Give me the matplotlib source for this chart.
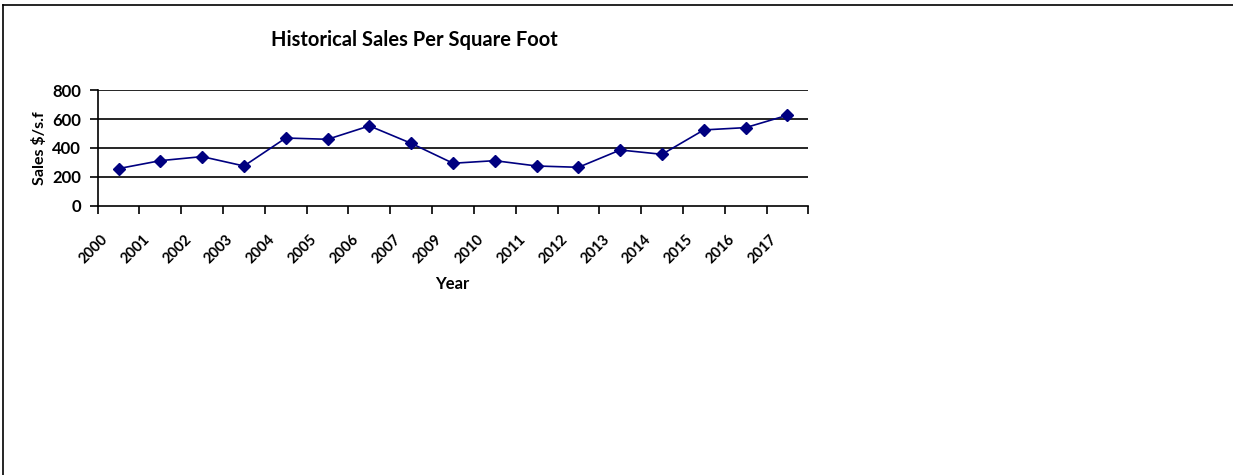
import matplotlib.pyplot as plt
from matplotlib.lines import Line2D
from matplotlib.transforms import ScaledTranslation

plt.rcParams['font.family'] = ['Lato', 'DejaVu Sans']

years = ['2000', '2001', '2002', '2003', '2004', '2005', '2006', '2007', '2009',
         '2010', '2011', '2012', '2013', '2014', '2015', '2016', '2017']
sales = [257, 312, 340, 275, 469, 460, 553, 432, 294,
         312, 275, 266, 386, 356, 525, 541, 627]
yticks = [0, 200, 400, 600, 800]

fig = plt.figure(figsize=(12.33, 4.75), dpi=100)
ax = fig.add_axes([0.0792, 0.567, 0.5764, 0.243])

xs = list(range(len(years)))
ax.plot(xs, sales, color='#000080', linewidth=1.2, marker='D', markersize=6.5,
        markerfacecolor='#000080', markeredgecolor='#000080', zorder=3)

ax.set_xlim(-0.5, len(years) - 0.5)
ax.set_ylim(0, 800)
ax.set_yticks(yticks)
for y in yticks[1:]:
    ax.axhline(y, color='black', linewidth=1.2, zorder=1)

# categories sit between the tick marks
ax.set_xticks([i - 0.5 for i in range(len(years) + 1)], minor=True)
ax.set_xticks(xs)
ax.set_xticklabels(years, rotation=45, ha='right', fontsize=10.5, fontweight='bold')
ax.tick_params(axis='x', which='major', length=0, pad=19)
ax.tick_params(axis='x', which='minor', length=6, width=1.2, direction='out')
ax.tick_params(axis='y', length=6, width=1.2, direction='out', pad=6,
               labelsize=12)
for lbl in ax.get_yticklabels():
    lbl.set_fontweight('bold')
offset = ScaledTranslation(-8 / 100, 0, fig.dpi_scale_trans)
for lbl in ax.get_xticklabels():
    lbl.set_transform(lbl.get_transform() + offset)

for side in ['top', 'right']:
    ax.spines[side].set_visible(False)
for side in ['left', 'bottom']:
    ax.spines[side].set_linewidth(1.2)

fig.text(414.5 / 1233, 1 - 40 / 475, 'Historical Sales Per Square Foot',
         ha='center', va='center', fontsize=14.5, fontweight='bold')
fig.text(452 / 1233, 1 - 284 / 475, 'Year', ha='center', va='center',
         fontsize=12, fontweight='bold')
fig.text(40 / 1233, 1 - 148 / 475, 'Sales $/s.f', ha='center', va='center',
         rotation=90, fontsize=11.5, fontweight='bold')

# outer frame (top and left edges visible)
fig.add_artist(Line2D([2.5 / 1233, 1], [1 - 5 / 475, 1 - 5 / 475],
                      transform=fig.transFigure, color='black', linewidth=1.2))
fig.add_artist(Line2D([2.5 / 1233, 2.5 / 1233], [0, 1 - 5 / 475],
                      transform=fig.transFigure, color='black', linewidth=1.2))

fig.savefig('out.png', dpi=100, facecolor='white')
